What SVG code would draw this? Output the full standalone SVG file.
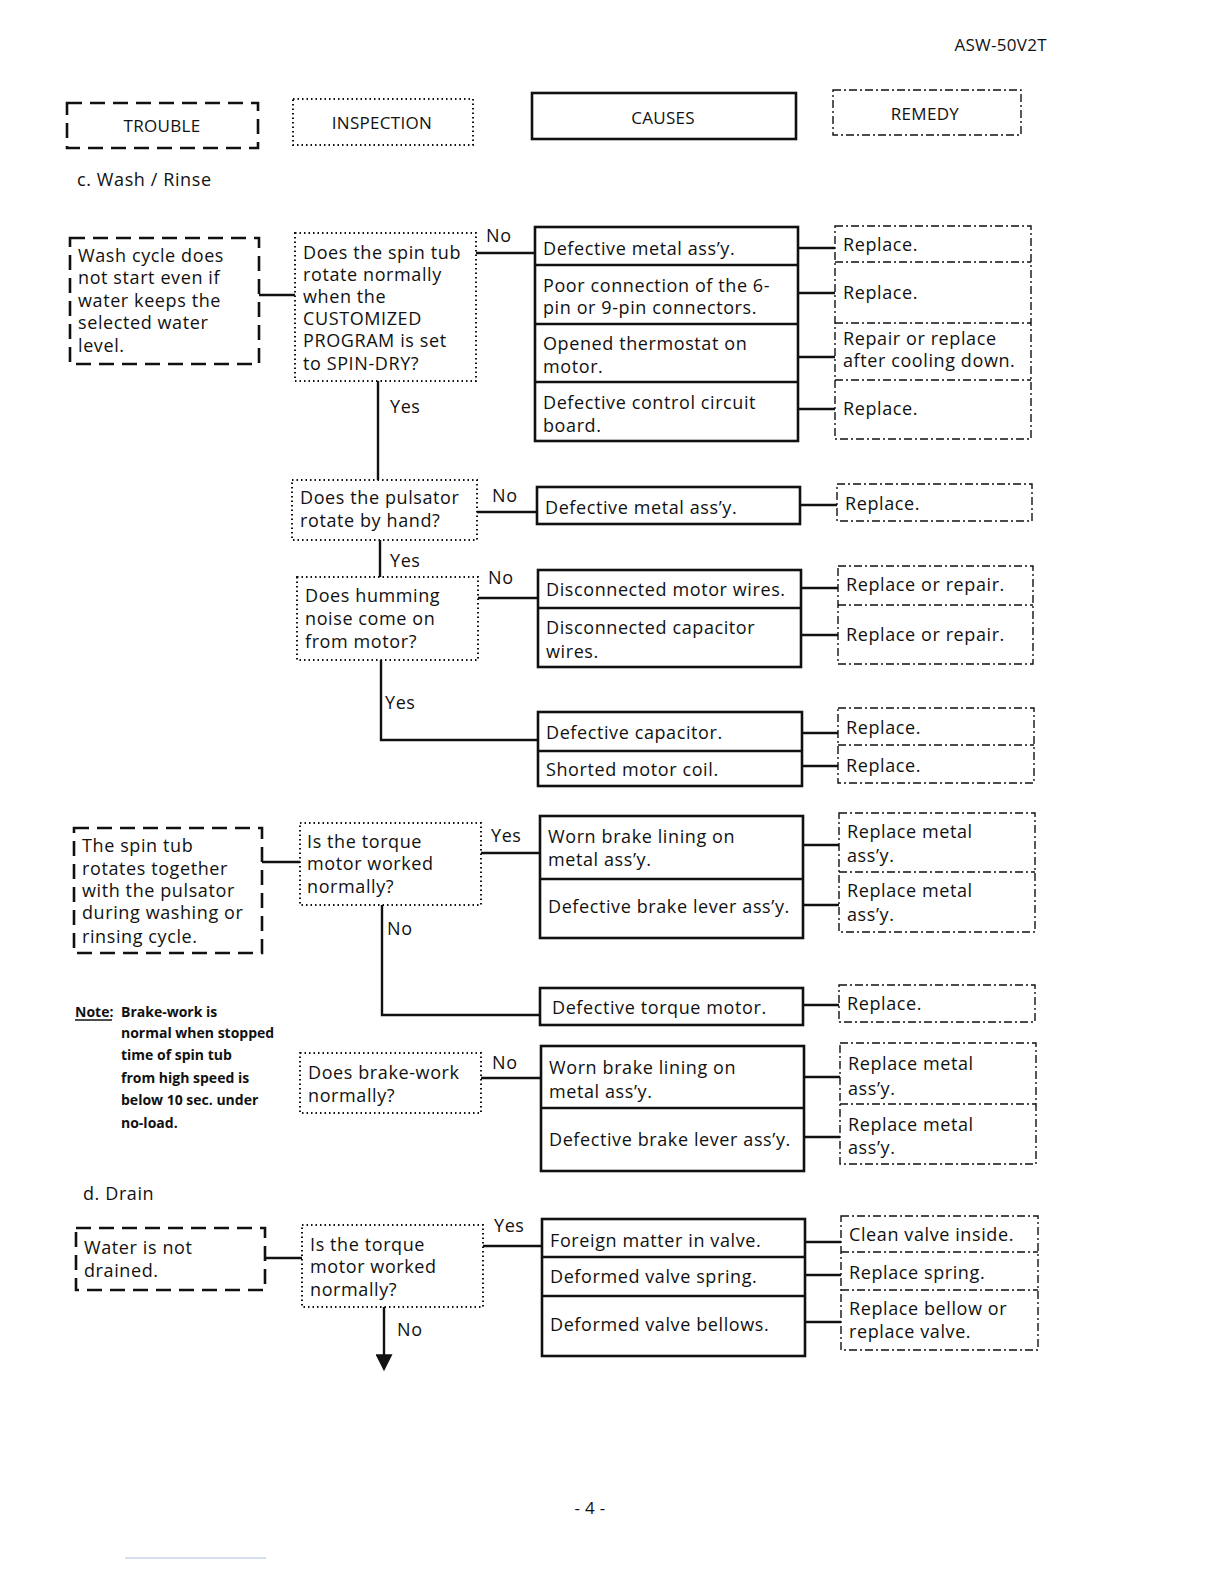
<svg xmlns="http://www.w3.org/2000/svg" width="1224" height="1584" viewBox="0 0 1224 1584">
<style>
text{font-family:"Open Sans","Liberation Sans",sans-serif;font-size:18px;letter-spacing:0.6px;fill:#111}
.t{fill:none;stroke:#111;stroke-width:2.6;stroke-dasharray:15 8}
.i{fill:none;stroke:#111;stroke-width:2;stroke-dasharray:1.5 3}
.c{fill:none;stroke:#111;stroke-width:2.6}
.r{fill:none;stroke:#111;stroke-width:1.4;stroke-dasharray:8 3 2 3}
.l{fill:none;stroke:#111;stroke-width:2.4}
.n{font-size:14px;font-weight:bold;letter-spacing:0}
.h{font-size:17px;letter-spacing:0.3px}
</style>
<defs>
<marker id="ah" viewBox="0 0 10 10" refX="1" refY="5" markerWidth="17" markerHeight="17" markerUnits="userSpaceOnUse" orient="auto">
<path d="M0,0 L10,5 L0,10 Z" fill="#111"/>
</marker>
</defs>
<rect width="1224" height="1584" fill="#fff"/>
<text x="1047" y="51" text-anchor="end" class="h">ASW-50V2T</text>

<g id="hdr-trouble"><rect class="t" x="67" y="103" width="191" height="45"/><text x="162" y="132" text-anchor="middle" class="h">TROUBLE</text></g>
<g id="hdr-inspection"><rect class="i" x="293" y="99" width="180" height="46"/><text x="382" y="129" text-anchor="middle" class="h">INSPECTION</text></g>
<g id="hdr-causes"><rect class="c" x="532" y="93" width="264" height="46"/><text x="663" y="124" text-anchor="middle" class="h">CAUSES</text></g>
<g id="hdr-remedy"><rect class="r" x="833" y="90" width="188" height="45"/><text x="925" y="120" text-anchor="middle" class="h">REMEDY</text></g>

<text x="77" y="186">c. Wash / Rinse</text>

<!-- Section 1 -->
<g id="trouble1"><rect class="t" x="70" y="238" width="189" height="126"/>
<text x="78" y="262">Wash cycle does</text><text x="78" y="284">not start even if</text><text x="78" y="307">water keeps the</text><text x="78" y="329">selected water</text><text x="78" y="352">level.</text></g>
<g id="insp1"><rect class="i" x="295" y="233" width="181" height="148"/>
<text x="303" y="259">Does the spin tub</text><text x="303" y="281">rotate normally</text><text x="303" y="303">when the</text><text x="303" y="325">CUSTOMIZED</text><text x="303" y="347">PROGRAM is set</text><text x="303" y="370">to SPIN-DRY?</text></g>
<g id="cause1"><rect class="c" x="535" y="227" width="263" height="214"/>
<line class="c" x1="535" y1="265" x2="798" y2="265"/><line class="c" x1="535" y1="324" x2="798" y2="324"/><line class="c" x1="535" y1="382" x2="798" y2="382"/>
<text x="543" y="255">Defective metal ass’y.</text><text x="543" y="292">Poor connection of the 6-</text><text x="543" y="314">pin or 9-pin connectors.</text><text x="543" y="350">Opened thermostat on</text><text x="543" y="373">motor.</text><text x="543" y="409">Defective control circuit</text><text x="543" y="432">board.</text></g>
<g id="remedy1"><rect class="r" x="835" y="226" width="196" height="213"/>
<line class="r" x1="835" y1="262" x2="1031" y2="262"/><line class="r" x1="835" y1="323" x2="1031" y2="323"/><line class="r" x1="835" y1="380" x2="1031" y2="380"/>
<text x="843" y="251">Replace.</text><text x="843" y="299">Replace.</text><text x="843" y="345">Repair or replace</text><text x="843" y="367">after cooling down.</text><text x="843" y="415">Replace.</text></g>

<!-- Section 2 -->
<g id="insp2"><rect class="i" x="292" y="480" width="185" height="60"/>
<text x="300" y="504">Does the pulsator</text><text x="300" y="527">rotate by hand?</text></g>
<g id="cause2"><rect class="c" x="537" y="487" width="263" height="37"/><text x="545" y="514">Defective metal ass’y.</text></g>
<g id="remedy2"><rect class="r" x="837" y="484" width="195" height="37"/><text x="845" y="510">Replace.</text></g>

<!-- Section 3 -->
<g id="insp3"><rect class="i" x="297" y="577" width="181" height="83"/>
<text x="305" y="602">Does humming</text><text x="305" y="625">noise come on</text><text x="305" y="648">from motor?</text></g>
<g id="cause3"><rect class="c" x="538" y="570" width="263" height="97"/><line class="c" x1="538" y1="608" x2="801" y2="608"/>
<text x="546" y="596">Disconnected motor wires.</text><text x="546" y="634">Disconnected capacitor</text><text x="546" y="658">wires.</text></g>
<g id="remedy3"><rect class="r" x="838" y="566" width="195" height="98"/><line class="r" x1="838" y1="605" x2="1033" y2="605"/>
<text x="846" y="591">Replace or repair.</text><text x="846" y="641">Replace or repair.</text></g>
<g id="cause4"><rect class="c" x="538" y="712" width="264" height="74"/><line class="c" x1="538" y1="751" x2="802" y2="751"/>
<text x="546" y="739">Defective capacitor.</text><text x="546" y="776">Shorted motor coil.</text></g>
<g id="remedy4"><rect class="r" x="838" y="708" width="196" height="75"/><line class="r" x1="838" y1="745" x2="1034" y2="745"/>
<text x="846" y="734">Replace.</text><text x="846" y="772">Replace.</text></g>

<!-- Section 4 -->
<g id="trouble2"><rect class="t" x="74" y="828" width="188" height="125"/>
<text x="82" y="852">The spin tub</text><text x="82" y="875">rotates together</text><text x="82" y="897">with the pulsator</text><text x="82" y="919">during washing or</text><text x="82" y="943">rinsing cycle.</text></g>
<g id="insp4"><rect class="i" x="300" y="823" width="181" height="82"/>
<text x="307" y="848">Is the torque</text><text x="307" y="870">motor worked</text><text x="307" y="893">normally?</text></g>
<g id="cause5"><rect class="c" x="540" y="816" width="263" height="122"/><line class="c" x1="540" y1="879" x2="803" y2="879"/>
<text x="548" y="843">Worn brake lining on</text><text x="548" y="866">metal ass’y.</text><text x="548" y="913">Defective brake lever ass’y.</text></g>
<g id="remedy5"><rect class="r" x="839" y="813" width="196" height="119"/><line class="r" x1="839" y1="872" x2="1035" y2="872"/>
<text x="847" y="838">Replace metal</text><text x="847" y="862">ass’y.</text><text x="847" y="897">Replace metal</text><text x="847" y="921">ass’y.</text></g>
<g id="cause6"><rect class="c" x="540" y="988" width="263" height="37"/><text x="552" y="1014">Defective torque motor.</text></g>
<g id="remedy6"><rect class="r" x="839" y="985" width="196" height="37"/><text x="847" y="1010">Replace.</text></g>

<!-- Note -->
<g id="note">
<text x="75" y="1017" class="n">Note:</text><line x1="75" y1="1020" x2="112" y2="1020" stroke="#111" stroke-width="1.3"/>
<text x="121" y="1017" class="n">Brake-work is</text>
<text x="121" y="1038" class="n">normal when stopped</text>
<text x="121" y="1060" class="n">time of spin tub</text>
<text x="121" y="1083" class="n">from high speed is</text>
<text x="121" y="1105" class="n">below 10 sec. under</text>
<text x="121" y="1128" class="n">no-load.</text>
</g>

<!-- Section 5 -->
<g id="insp5"><rect class="i" x="300" y="1053" width="181" height="60"/>
<text x="308" y="1079">Does brake-work</text><text x="308" y="1102">normally?</text></g>
<g id="cause7"><rect class="c" x="541" y="1046" width="263" height="125"/><line class="c" x1="541" y1="1108" x2="804" y2="1108"/>
<text x="549" y="1074">Worn brake lining on</text><text x="549" y="1098">metal ass’y.</text><text x="549" y="1146">Defective brake lever ass’y.</text></g>
<g id="remedy7"><rect class="r" x="840" y="1043" width="196" height="121"/><line class="r" x1="840" y1="1104" x2="1036" y2="1104"/>
<text x="848" y="1070">Replace metal</text><text x="848" y="1095">ass’y.</text><text x="848" y="1131">Replace metal</text><text x="848" y="1154">ass’y.</text></g>

<text x="83" y="1200">d. Drain</text>

<!-- Section 6 -->
<g id="trouble3"><rect class="t" x="76" y="1228" width="189" height="62"/>
<text x="84" y="1254">Water is not</text><text x="84" y="1277">drained.</text></g>
<g id="insp6"><rect class="i" x="302" y="1225" width="181" height="82"/>
<text x="310" y="1251">Is the torque</text><text x="310" y="1273">motor worked</text><text x="310" y="1296">normally?</text></g>
<g id="cause8"><rect class="c" x="542" y="1219" width="263" height="137"/><line class="c" x1="542" y1="1257" x2="805" y2="1257"/><line class="c" x1="542" y1="1296" x2="805" y2="1296"/>
<text x="550" y="1247">Foreign matter in valve.</text><text x="550" y="1283">Deformed valve spring.</text><text x="550" y="1331">Deformed valve bellows.</text></g>
<g id="remedy8"><rect class="r" x="841" y="1216" width="197" height="134"/><line class="r" x1="841" y1="1252" x2="1038" y2="1252"/><line class="r" x1="841" y1="1290" x2="1038" y2="1290"/>
<text x="849" y="1241">Clean valve inside.</text><text x="849" y="1279">Replace spring.</text><text x="849" y="1315">Replace bellow or</text><text x="849" y="1338">replace valve.</text></g>

<!-- Connectors -->
<g id="connectors">
<path class="l" d="M259,295 H295"/>
<path class="l" d="M476,253 H535"/>
<path class="l" d="M798,248 H835 M798,293 H835 M798,357 H835 M798,409 H835"/>
<path class="l" d="M378,381 V480"/>
<path class="l" d="M477,512 H537"/>
<path class="l" d="M800,505 H837"/>
<path class="l" d="M380,540 V577"/>
<path class="l" d="M478,598 H538"/>
<path class="l" d="M801,588 H838 M801,635 H838"/>
<path class="l" d="M381,660 V740 H538"/>
<path class="l" d="M802,733 H838 M802,766 H838"/>
<path class="l" d="M262,862 H300"/>
<path class="l" d="M481,853 H540"/>
<path class="l" d="M803,845 H839 M803,905 H839"/>
<path class="l" d="M382,905 V1015 H540"/>
<path class="l" d="M803,1005 H839"/>
<path class="l" d="M481,1078 H541"/>
<path class="l" d="M804,1077 H840 M804,1137 H840"/>
<path class="l" d="M265,1258 H302"/>
<path class="l" d="M483,1246 H542"/>
<path class="l" d="M805,1242 H841 M805,1275 H841 M805,1322 H841"/>
<path class="l" d="M384,1307 V1356" marker-end="url(#ah)"/>
<text x="486" y="242">No</text>
<text x="390" y="413">Yes</text>
<text x="492" y="502">No</text>
<text x="390" y="567">Yes</text>
<text x="488" y="584">No</text>
<text x="385" y="709">Yes</text>
<text x="491" y="842">Yes</text>
<text x="387" y="935">No</text>
<text x="492" y="1069">No</text>
<text x="494" y="1232">Yes</text>
<text x="397" y="1336">No</text>
</g>

<text x="590" y="1514" text-anchor="middle" class="h">- 4 -</text>
<line x1="125" y1="1558" x2="266" y2="1558" stroke="#c8d4ee" stroke-width="1.5"/>
</svg>
